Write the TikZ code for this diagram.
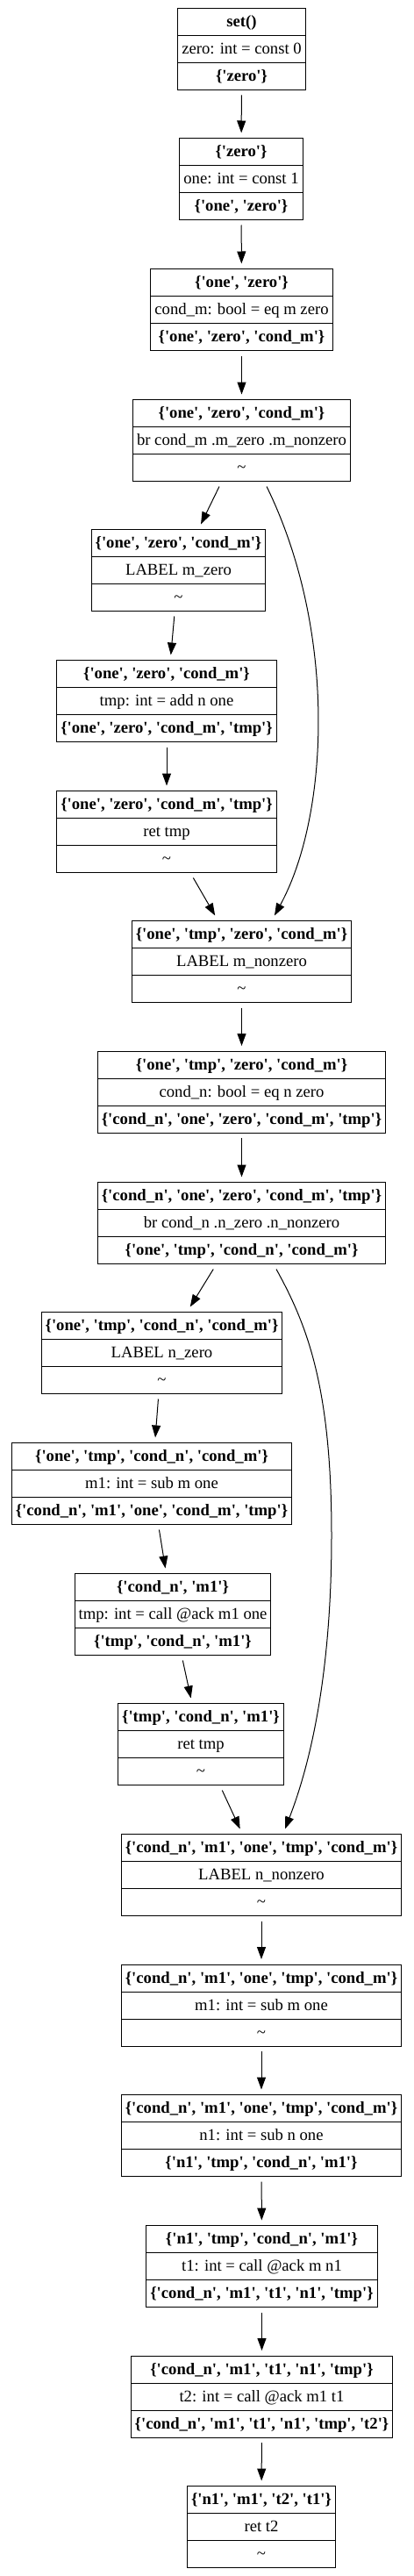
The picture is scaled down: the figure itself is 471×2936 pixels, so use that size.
\documentclass[tikz,border=0pt]{standalone}
\usepackage{fontspec}
\setmainfont{Liberation Serif}[Ligatures=TeXOff]
\usepackage{tikz}
\usetikzlibrary{shapes.multipart,arrows.meta}

% one row of a block is 30px high
\newcommand{\rs}{\rule[-7pt]{0pt}{22.5pt}}
\newcommand{\blk}[3]{\rs\textbf{#1}\nodepart{two}\rs#2\nodepart{three}\rs\textbf{#3}}
\newcommand{\nil}{\textmd{\textasciitilde}}

\begin{document}
\begin{tikzpicture}[
            x=0.75pt, y=-0.75pt,
            block/.style={draw, line width=0.75pt, rectangle split, rectangle split parts=3,
                inner xsep=3.4pt, inner ysep=0pt, outer sep=4.5pt,
                font=\fontsize{14pt}{16pt}\selectfont},
            edge/.style={draw, line width=0.75pt, -{Triangle[length=10.5pt,width=7.5pt]}}
        ]
        \useasboundingbox (0,0) rectangle (471,2936);
        % first half: m
        \node[block] (set)   at (275.5,56)   {\blk{set()}{zero: int = const 0}{\{'zero'\}}};
        \node[block] (one)   at (275,204)    {\blk{\{'zero'\}}{one: int = const 1}{\{'one', 'zero'\}}};
        \node[block] (condm) at (275.5,353)  {\blk{\{'one', 'zero'\}}{cond\_m: bool = eq m zero}{\{'one', 'zero', 'cond\_m'\}}};
        \node[block] (brm)   at (275.5,502)  {\blk{\{'one', 'zero', 'cond\_m'\}}{br cond\_m .m\_zero .m\_nonzero}{\nil}};
        \node[block] (mzero) at (203.5,650)  {\blk{\{'one', 'zero', 'cond\_m'\}}{LABEL m\_zero}{\nil}};
        \node[block] (add)   at (190,799)    {\blk{\{'one', 'zero', 'cond\_m'\}}{tmp: int = add n one}{\{'one', 'zero', 'cond\_m', 'tmp'\}}};
        \node[block] (retm)  at (190,948)    {\blk{\{'one', 'zero', 'cond\_m', 'tmp'\}}{ret tmp}{\nil}};
        \node[block] (mnz)   at (275.5,1096) {\blk{\{'one', 'tmp', 'zero', 'cond\_m'\}}{LABEL m\_nonzero}{\nil}};
        % second half: n
        \node[block] (condn) at (275.5,1244.5) {\blk{\{'one', 'tmp', 'zero', 'cond\_m'\}}{cond\_n: bool = eq n zero}{\{'cond\_n', 'one', 'zero', 'cond\_m', 'tmp'\}}};
        \node[block] (brn)   at (275.5,1394) {\blk{\{'cond\_n', 'one', 'zero', 'cond\_m', 'tmp'\}}{br cond\_n .n\_zero .n\_nonzero}{\{'one', 'tmp', 'cond\_n', 'cond\_m'\}}};
        \node[block] (nzero) at (184.5,1542) {\blk{\{'one', 'tmp', 'cond\_n', 'cond\_m'\}}{LABEL n\_zero}{\nil}};
        \node[block] (subm)  at (173,1691)   {\blk{\{'one', 'tmp', 'cond\_n', 'cond\_m'\}}{m1: int = sub m one}{\{'cond\_n', 'm1', 'one', 'cond\_m', 'tmp'\}}};
        \node[block] (calla) at (197,1840)   {\blk{\{'cond\_n', 'm1'\}}{tmp: int = call @ack m1 one}{\{'tmp', 'cond\_n', 'm1'\}}};
        \node[block] (retn)  at (229,1988)   {\blk{\{'tmp', 'cond\_n', 'm1'\}}{ret tmp}{\nil}};
        \node[block] (nnz)   at (298,2137)   {\blk{\{'cond\_n', 'm1', 'one', 'tmp', 'cond\_m'\}}{LABEL n\_nonzero}{\nil}};
        \node[block] (subm2) at (298,2285.5) {\blk{\{'cond\_n', 'm1', 'one', 'tmp', 'cond\_m'\}}{m1: int = sub m one}{\nil}};
        \node[block] (subn)  at (298,2434)   {\blk{\{'cond\_n', 'm1', 'one', 'tmp', 'cond\_m'\}}{n1: int = sub n one}{\{'n1', 'tmp', 'cond\_n', 'm1'\}}};
        \node[block] (callb) at (298.5,2583) {\blk{\{'n1', 'tmp', 'cond\_n', 'm1'\}}{t1: int = call @ack m n1}{\{'cond\_n', 'm1', 't1', 'n1', 'tmp'\}}};
        \node[block] (callc) at (298.5,2731.5) {\blk{\{'cond\_n', 'm1', 't1', 'n1', 'tmp'\}}{t2: int = call @ack m1 t1}{\{'cond\_n', 'm1', 't1', 'n1', 'tmp', 't2'\}}};
        \node[block] (rett)  at (298,2880)   {\blk{\{'n1', 'm1', 't2', 't1'\}}{ret t2}{\nil}};
        % Straight edges
        \foreach \a/\b in {set/one, one/condm, condm/brm, brm/mzero, mzero/add, add/retm, retm/mnz,
                mnz/condn, condn/brn, brn/nzero, nzero/subm, subm/calla, calla/retn, retn/nnz,
                nnz/subm2, subm2/subn, subn/callb, callb/callc, callc/rett}
            \draw[edge] (\a) -- (\b);
        % Branch edges round the right side
        \draw[edge] ([xshift=21.4pt]brm.south) .. controls (385,720) and (375,930) .. ([xshift=28.1pt]mnz.north);
        \draw[edge] ([xshift=29.6pt]brn.south) .. controls (350,1510) and (378,1580) .. (378,1750)
            .. controls (378,1920) and (350,2020) .. ([xshift=20.25pt]nnz.north);
        \end{tikzpicture}
\end{document}
